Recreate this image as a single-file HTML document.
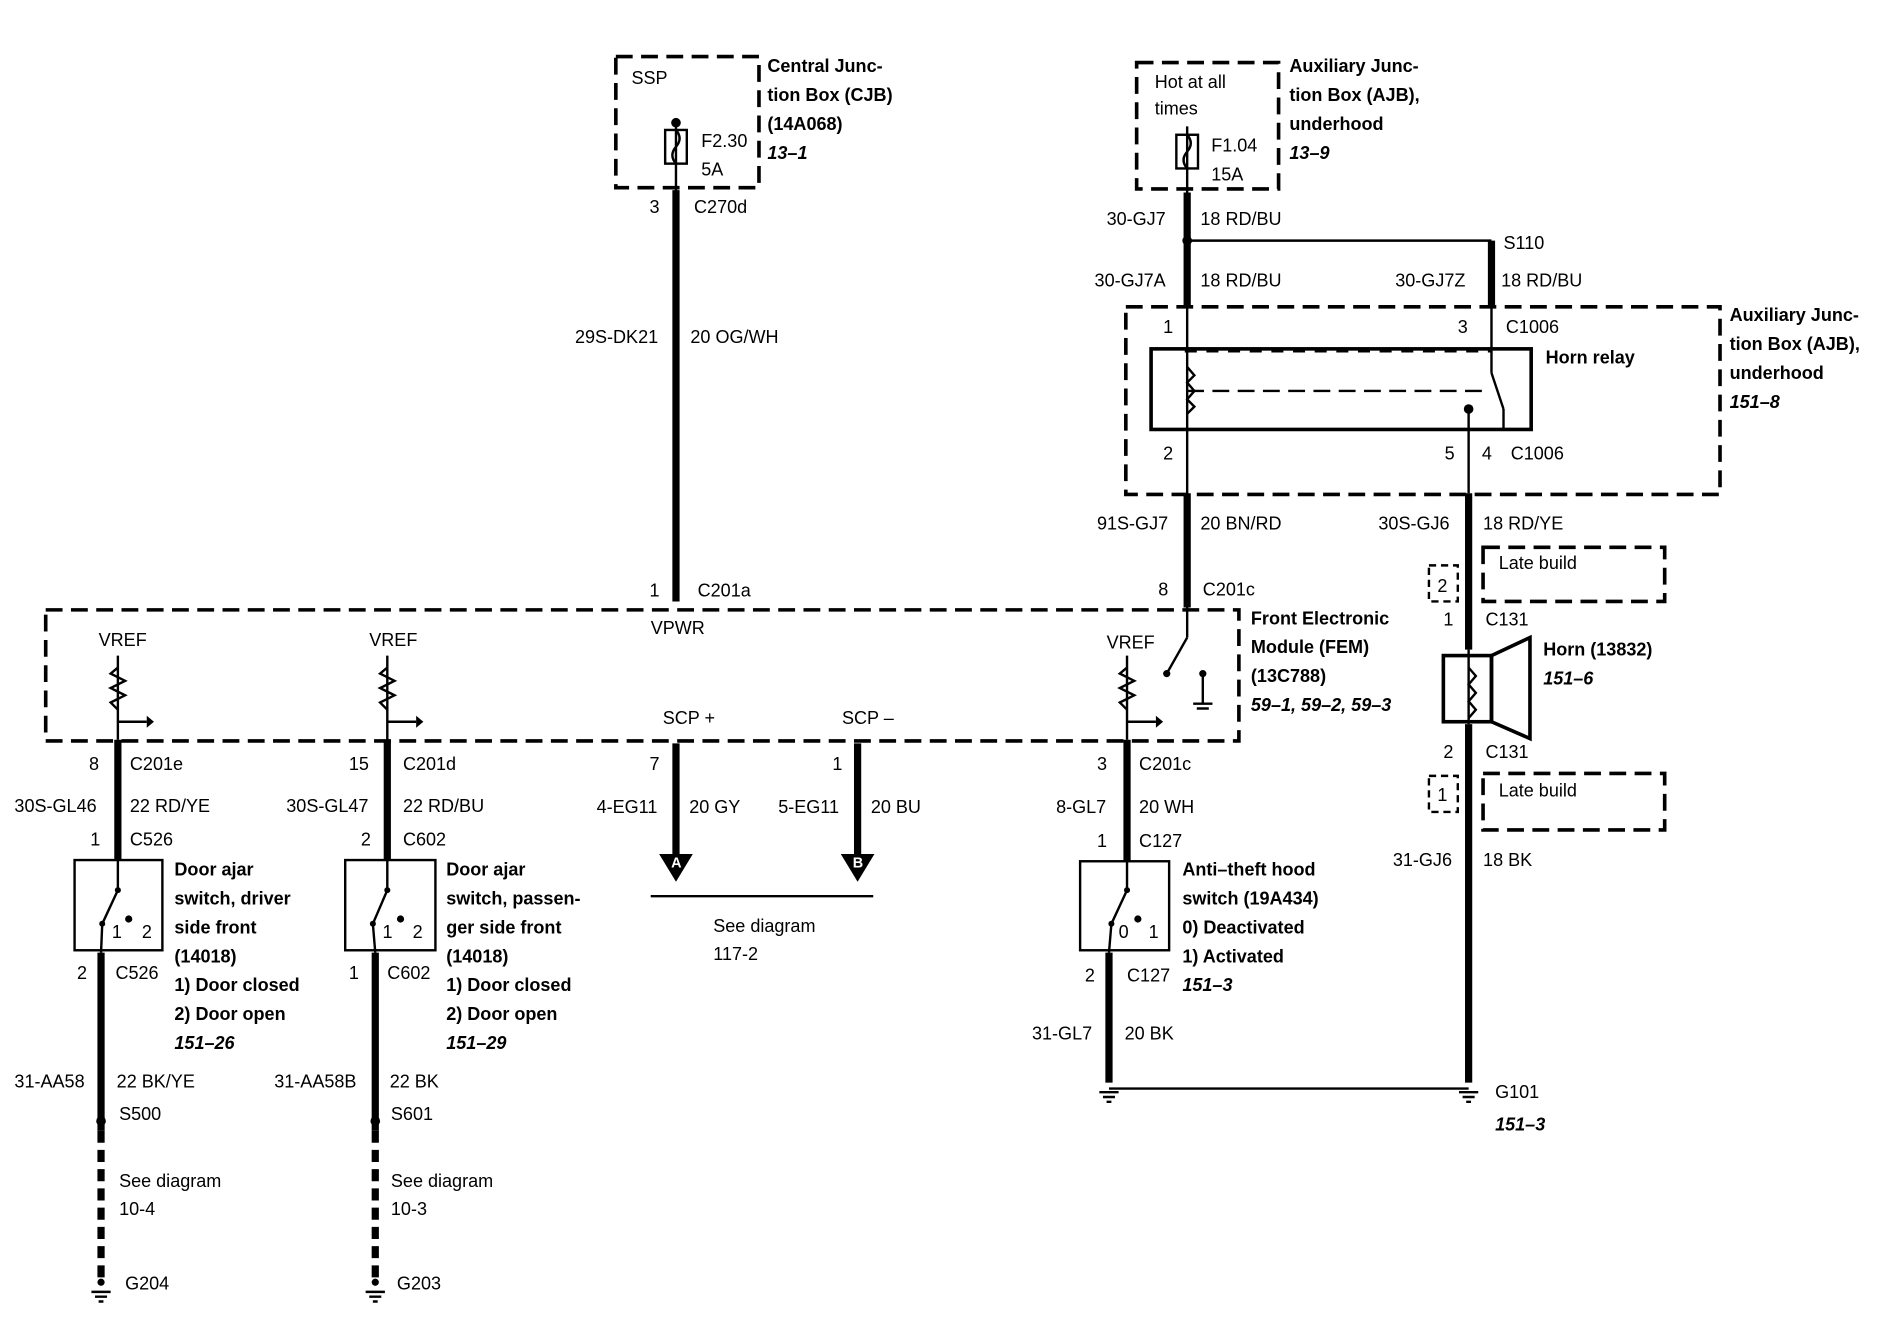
<!DOCTYPE html>
<html><head><style>
html,body{margin:0;padding:0;background:#fff;}
svg{display:block;}
text{font-family:"Liberation Sans",Arial,sans-serif;font-size:15px;fill:#000;}
.b{font-weight:bold;}
.i{font-weight:bold;font-style:italic;}
</style></head><body>
<svg width="1886" height="1328" viewBox="0 0 1568 1104" xmlns="http://www.w3.org/2000/svg">
<g fill="none" stroke="#000">
<g stroke-width="3" stroke-dasharray="14,7">
<rect x="512" y="47" width="119" height="109"/>
<rect x="945" y="52" width="118" height="105"/>
<rect x="936" y="255" width="494" height="156"/>
<rect x="38" y="507" width="992" height="109"/>
<rect x="1233" y="455" width="151" height="45"/>
<rect x="1233" y="643" width="151" height="47"/>
<line x1="987" y1="325" x2="1235" y2="325" stroke-width="2"/>
<line x1="985" y1="292" x2="1240" y2="292" stroke-width="2" stroke-dasharray="10,8"/>
<line x1="985" y1="357" x2="1250" y2="357" stroke-width="2" stroke-dasharray="10,8"/>
<line x1="84" y1="940" x2="84" y2="1066" stroke-width="6" stroke-dasharray="10,6"/>
<line x1="312" y1="940" x2="312" y2="1066" stroke-width="6" stroke-dasharray="10,6"/>
</g>
<g stroke-width="2" stroke-dasharray="6,4">
<rect x="1188" y="470" width="24" height="30"/>
<rect x="1188" y="645" width="24" height="30"/>
</g>
<g stroke-width="6">
<line x1="562" y1="158" x2="562" y2="500"/>
<line x1="987" y1="410" x2="987" y2="505"/>
<line x1="1221" y1="410" x2="1221" y2="540"/>
<line x1="1221" y1="602" x2="1221" y2="900"/>
<line x1="98" y1="615" x2="98" y2="715"/>
<line x1="84" y1="792" x2="84" y2="940"/>
<line x1="322" y1="615" x2="322" y2="715"/>
<line x1="312" y1="792" x2="312" y2="940"/>
<line x1="562" y1="618" x2="562" y2="712"/>
<line x1="713" y1="618" x2="713" y2="712"/>
<line x1="937" y1="615" x2="937" y2="716"/>
<line x1="922" y1="792" x2="922" y2="900"/>
<line x1="987" y1="160" x2="987" y2="255"/>
<line x1="1240" y1="200" x2="1240" y2="255"/>
</g>
<g stroke-width="2">
<line x1="987" y1="200" x2="1240" y2="200"/>
<line x1="987" y1="255" x2="987" y2="410"/>
<line x1="1240" y1="255" x2="1240" y2="310"/>
<line x1="1240" y1="310" x2="1250" y2="340"/>
<line x1="1250" y1="340" x2="1250" y2="357"/>
<line x1="1221" y1="340" x2="1221" y2="410"/>
<line x1="987" y1="505" x2="987" y2="530"/>
<line x1="987" y1="530" x2="970" y2="560"/>
<line x1="1000" y1="560" x2="1000" y2="585"/>
<line x1="922" y1="905" x2="1221" y2="905"/>
<line x1="541" y1="745" x2="726" y2="745"/>
<line x1="562" y1="100" x2="562" y2="160"/>
<line x1="987" y1="105" x2="987" y2="160"/>
<line x1="98" y1="545" x2="98" y2="615"/>
<line x1="322" y1="545" x2="322" y2="615"/>
<line x1="937" y1="545" x2="937" y2="615"/>
<line x1="98" y1="600" x2="122" y2="600"/>
<line x1="322" y1="600" x2="346" y2="600"/>
<line x1="937" y1="600" x2="961" y2="600"/>
<line x1="1221" y1="540" x2="1221" y2="602"/>
</g>
<g stroke-width="2">
<polyline points="98,555 92,560 104,566 92,572 104,578 92,584 98,590"/>
<polyline points="322,555 316,560 328,566 316,572 328,578 316,584 322,590"/>
<polyline points="937,555 931,560 943,566 931,572 943,578 931,584 937,590"/>
<polyline points="987,305 993,312 987,318 993,325 987,332 993,338 987,344"/>
<polyline points="1221,555 1227,562 1221,569 1227,576 1221,583 1227,590 1221,597"/>
</g>
<rect x="957" y="290" width="316" height="67" stroke-width="3"/>
<rect x="1200" y="545" width="40" height="55" stroke-width="3"/>
<polygon points="1240,545 1272,530 1272,614 1240,600" stroke-width="3"/>
<rect x="553" y="108" width="18" height="28" stroke-width="2"/>
<path d="M562 108 q6 7 0 14 q-6 7 0 14" stroke-width="2"/>
<rect x="978" y="112" width="18" height="28" stroke-width="2"/>
<path d="M987 112 q6 7 0 14 q-6 7 0 14" stroke-width="2"/>
<g stroke-width="2">
<rect x="62" y="715" width="73" height="75"/>
<rect x="287" y="715" width="75" height="75"/>
<rect x="898" y="716" width="74" height="74"/>
<polyline points="98,715 98,740 85,768 84,792"/>
<polyline points="322,715 322,740 310,768 312,792"/>
<polyline points="937,716 937,740 924,768 922,792"/>
</g>
<g stroke-width="2">
<path d="M76 1074h16M79 1078h10M82 1082h4"/>
<path d="M304 1074h16M307 1078h10M310 1082h4"/>
<path d="M914 908h16M917 912h10M920 916h4"/>
<path d="M1213 908h16M1216 912h10M1219 916h4"/>
<path d="M992 585h16M995 589h10"/>
</g>
</g>
<g fill="#000">
<circle cx="987" cy="200" r="4"/><circle cx="562" cy="102" r="4"/>
<circle cx="1221" cy="340" r="4"/><circle cx="1000" cy="560" r="3"/><circle cx="970" cy="560" r="3"/>
<circle cx="107" cy="764" r="3"/><circle cx="333" cy="764" r="3"/><circle cx="946" cy="764" r="3"/>
<circle cx="98" cy="740" r="2.5"/><circle cx="85" cy="768" r="2.5"/>
<circle cx="322" cy="740" r="2.5"/><circle cx="310" cy="768" r="2.5"/>
<circle cx="937" cy="740" r="2.5"/><circle cx="924" cy="768" r="2.5"/>
<polygon points="548,710 576,710 562,733"/><polygon points="699,710 727,710 713,733"/>
<polygon points="122,595 128,600 122,605"/><polygon points="346,595 352,600 346,605"/><polygon points="961,595 967,600 961,605"/>
<circle cx="84" cy="1066" r="3"/><circle cx="312" cy="1066" r="3"/><circle cx="84" cy="932" r="4"/><circle cx="312" cy="932" r="4"/>
</g>
<text x="558" y="721" style="fill:#fff;font-size:12px" class="b">A</text>
<text x="709" y="721" style="fill:#fff;font-size:12px" class="b">B</text>
<g>
<text x="525" y="70">SSP</text>
<text x="583" y="122">F2.30</text><text x="583" y="146">5A</text>
<text x="960" y="73">Hot at all</text><text x="960" y="95">times</text>
<text x="1007" y="126">F1.04</text><text x="1007" y="150">15A</text>
<text x="540" y="177">3</text><text x="577" y="177">C270d</text>
<text x="478" y="285">29S-DK21</text><text x="574" y="285">20 OG/WH</text>
<text x="540" y="496">1</text><text x="580" y="496">C201a</text>
<text x="541" y="527">VPWR</text>
<text x="920" y="187">30-GJ7</text><text x="998" y="187">18 RD/BU</text>
<text x="1250" y="207">S110</text>
<text x="910" y="238">30-GJ7A</text><text x="998" y="238">18 RD/BU</text>
<text x="1160" y="238">30-GJ7Z</text><text x="1248" y="238">18 RD/BU</text>
<text x="967" y="277">1</text><text x="1212" y="277">3</text><text x="1252" y="277">C1006</text>
<text x="967" y="382">2</text><text x="1201" y="382">5</text><text x="1232" y="382">4</text><text x="1256" y="382">C1006</text>
<text x="912" y="440">91S-GJ7</text><text x="998" y="440">20 BN/RD</text>
<text x="1146" y="440">30S-GJ6</text><text x="1233" y="440">18 RD/YE</text>
<text x="963" y="495">8</text><text x="1000" y="495">C201c</text>
<text x="1246" y="473">Late build</text><text x="1195" y="492">2</text>
<text x="1200" y="520">1</text><text x="1235" y="520">C131</text>
<text x="1200" y="630">2</text><text x="1235" y="630">C131</text>
<text x="1246" y="662">Late build</text><text x="1195" y="666">1</text>
<text x="1158" y="720">31-GJ6</text><text x="1233" y="720">18 BK</text>
<text x="1243" y="913">G101</text>
<text x="82" y="537">VREF</text><text x="307" y="537">VREF</text><text x="920" y="539">VREF</text>
<text x="551" y="602">SCP +</text><text x="700" y="602">SCP –</text>
<text x="74" y="640">8</text><text x="108" y="640">C201e</text>
<text x="290" y="640">15</text><text x="335" y="640">C201d</text>
<text x="540" y="640">7</text><text x="692" y="640">1</text>
<text x="912" y="640">3</text><text x="947" y="640">C201c</text>
<text x="12" y="675">30S-GL46</text><text x="108" y="675">22 RD/YE</text>
<text x="238" y="675">30S-GL47</text><text x="335" y="675">22 RD/BU</text>
<text x="496" y="676">4-EG11</text><text x="573" y="676">20 GY</text>
<text x="647" y="676">5-EG11</text><text x="724" y="676">20 BU</text>
<text x="878" y="676">8-GL7</text><text x="947" y="676">20 WH</text>
<text x="75" y="703">1</text><text x="108" y="703">C526</text>
<text x="300" y="703">2</text><text x="335" y="703">C602</text>
<text x="912" y="704">1</text><text x="947" y="704">C127</text>
<text x="93" y="780">1</text><text x="118" y="780">2</text>
<text x="318" y="780">1</text><text x="343" y="780">2</text>
<text x="930" y="780">0</text><text x="955" y="780">1</text>
<text x="64" y="814">2</text><text x="96" y="814">C526</text>
<text x="290" y="814">1</text><text x="322" y="814">C602</text>
<text x="902" y="816">2</text><text x="937" y="816">C127</text>
<text x="593" y="775">See diagram</text><text x="593" y="798">117-2</text>
<text x="858" y="864">31-GL7</text><text x="935" y="864">20 BK</text>
<text x="12" y="904">31-AA58</text><text x="97" y="904">22 BK/YE</text>
<text x="228" y="904">31-AA58B</text><text x="324" y="904">22 BK</text>
<text x="99" y="931">S500</text><text x="325" y="931">S601</text>
<text x="99" y="987">See diagram</text><text x="99" y="1010">10-4</text>
<text x="325" y="987">See diagram</text><text x="325" y="1010">10-3</text>
<text x="104" y="1072">G204</text><text x="330" y="1072">G203</text>
</g>
<g class="b">
<text class="b" x="638" y="60">Central Junc-</text><text class="b" x="638" y="84">tion Box (CJB)</text><text class="b" x="638" y="108">(14A068)</text><text class="i" x="638" y="132">13–1</text>
<text class="b" x="1072" y="60">Auxiliary Junc-</text><text class="b" x="1072" y="84">tion Box (AJB),</text><text class="b" x="1072" y="108">underhood</text><text class="i" x="1072" y="132">13–9</text>
<text class="b" x="1438" y="267">Auxiliary Junc-</text><text class="b" x="1438" y="291">tion Box (AJB),</text><text class="b" x="1438" y="315">underhood</text><text class="i" x="1438" y="339">151–8</text>
<text class="b" x="1285" y="302">Horn relay</text>
<text class="b" x="1040" y="519">Front Electronic</text><text class="b" x="1040" y="543">Module (FEM)</text><text class="b" x="1040" y="567">(13C788)</text><text class="i" x="1040" y="591">59–1, 59–2, 59–3</text>
<text class="b" x="1283" y="545">Horn (13832)</text><text class="i" x="1283" y="569">151–6</text>
<text class="b" x="145" y="728">Door ajar</text><text class="b" x="145" y="752">switch, driver</text><text class="b" x="145" y="776">side front</text><text class="b" x="145" y="800">(14018)</text><text class="b" x="145" y="824">1)   Door closed</text><text class="b" x="145" y="848">2)   Door open</text><text class="i" x="145" y="872">151–26</text>
<text class="b" x="371" y="728">Door ajar</text><text class="b" x="371" y="752">switch, passen-</text><text class="b" x="371" y="776">ger side front</text><text class="b" x="371" y="800">(14018)</text><text class="b" x="371" y="824">1)   Door closed</text><text class="b" x="371" y="848">2)   Door open</text><text class="i" x="371" y="872">151–29</text>
<text class="b" x="983" y="728">Anti–theft hood</text><text class="b" x="983" y="752">switch (19A434)</text><text class="b" x="983" y="776">0)   Deactivated</text><text class="b" x="983" y="800">1)   Activated</text><text class="i" x="983" y="824">151–3</text>
<text class="i" x="1243" y="940">151–3</text>
</g>
</svg>
</body></html>
